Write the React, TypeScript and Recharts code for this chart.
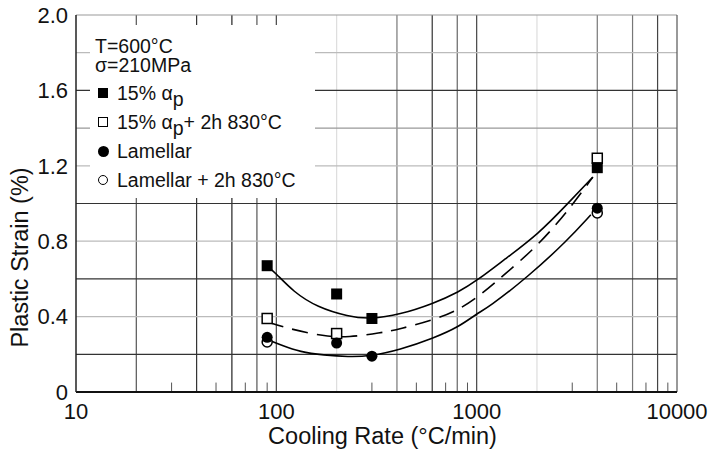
import React from 'react';
import { ComposedChart, Line, Scatter, XAxis, YAxis, ReferenceLine, Legend } from 'recharts';

const FONT = '"Liberation Sans", Arial, sans-serif';

const xTicks = [10, 100, 1000, 10000];
const yTicks = [0, 0.4, 0.8, 1.2, 1.6, 2.0];

// grid of the scanned figure (not evenly spaced on log scale)
const vGrid = [20, 40, 60, 80, 100, 200, 400, 600, 800, 1000, 2000, 4000, 6000, 8000];
const hGrid = [0.2, 0.4, 0.6, 0.8, 1.0, 1.2, 1.4, 1.6, 1.8];
const minorTicks = [30, 50, 70, 90, 300, 500, 700, 900, 3000, 5000, 7000, 9000];

// measured points
const alphaRate = [90, 200, 300, 4000];
const alphaStrain = [0.67, 0.52, 0.39, 1.19];
const alphaHtRate = [90, 200, 4000];
const alphaHtStrain = [0.39, 0.31, 1.24];
const lamRate = [90, 200, 300, 4000];
const lamStrain = [0.29, 0.26, 0.19, 0.975];
const lamHtRate = [90, 4000];
const lamHtStrain = [0.265, 0.95];

// fitted curves
const fitUpperRate = [91, 98, 122, 160, 229, 295, 412, 610, 813, 1012, 1365, 2042, 2851, 3800];
const fitUpperStrain = [0.663, 0.637, 0.53, 0.45, 0.4, 0.387, 0.41, 0.47, 0.53, 0.594, 0.7, 0.84, 1.0, 1.14];
const fitMidRate = [91, 108, 143, 180, 227, 331, 412, 610, 813, 1047, 1365, 2042, 2951, 3800];
const fitMidStrain = [0.37, 0.345, 0.313, 0.295, 0.29, 0.313, 0.334, 0.382, 0.435, 0.515, 0.62, 0.78, 0.98, 1.14];
const fitLowRate = [91, 105, 132, 172, 229, 295, 412, 610, 813, 1012, 1135, 1800, 2851, 3715];
const fitLowStrain = [0.276, 0.25, 0.212, 0.196, 0.186, 0.19, 0.223, 0.286, 0.345, 0.419, 0.446, 0.61, 0.806, 0.94];

const pts = (xs: number[], ys: number[]) => xs.map((x, i) => ({ x, y: ys[i] }));

const vShade = ['#555', '#333', '#222', '#555', '#444', '#ddd', '#777', '#333', '#666', '#444', '#ddd', '#777', '#777', '#444'];
const hShade = ['#333', '#bbb', '#333', '#bbb', '#333', '#bbb', '#999', '#333', '#bbb'];

const FilledSquare = (p: any) => <rect x={p.cx - 5.5} y={p.cy - 5.5} width={11} height={11} fill="#000" />;
const OpenSquare = (p: any) => (
  <rect x={p.cx - 5} y={p.cy - 5} width={10} height={10} fill="#fff" stroke="#000" strokeWidth={1.5} />
);
const FilledCircle = (p: any) => <circle cx={p.cx} cy={p.cy} r={5.5} fill="#000" />;
const OpenCircle = (p: any) => <circle cx={p.cx} cy={p.cy} r={5} fill="#fff" stroke="#000" strokeWidth={1.5} />;

const Sub = () => <span style={{ position: 'relative', top: '0.3em' }}>p</span>;

const marker = (kind: string) => {
  const base: React.CSSProperties = { position: 'absolute', left: 8, boxSizing: 'border-box' };
  if (kind === 'fs') return <span style={{ ...base, width: 10, height: 10, background: '#000', top: 5 }} />;
  if (kind === 'os') return <span style={{ ...base, width: 10, height: 10, border: '1.5px solid #000', top: 5 }} />;
  if (kind === 'fc') return <span style={{ ...base, width: 11, height: 11, background: '#000', borderRadius: '50%', top: 4.5 }} />;
  return <span style={{ ...base, width: 10, height: 10, border: '1.5px solid #000', borderRadius: '50%', top: 5 }} />;
};

const LegendBox = () => {
  const row = (top: number, h: number, children: React.ReactNode, kind?: string) => (
    <div style={{ position: 'absolute', top, left: 0, height: h, lineHeight: h + 'px', whiteSpace: 'nowrap' }}>
      {kind && marker(kind)}
      <span style={{ position: 'absolute', left: kind ? 27 : 5 }}>{children}</span>
    </div>
  );
  return (
    <div style={{ position: 'relative', width: 225, height: 173, background: '#fff', fontFamily: FONT, fontSize: 19.5, color: '#111' }}>
      {row(12, 18, 'T=600°C')}
      {row(31, 18, 'σ=210MPa')}
      {row(58, 20, <>15% α<Sub /></>, 'fs')}
      {row(87, 20, <>15% α<Sub />+ 2h 830°C</>, 'os')}
      {row(116, 20, 'Lamellar', 'fc')}
      {row(145, 20, 'Lamellar + 2h 830°C', 'oc')}
    </div>
  );
};

export default function App() {
  return (
    <div style={{ position: 'absolute', left: 0, top: 0, background: '#fff', fontFamily: FONT }}>
      <ComposedChart width={712} height={453} margin={{ top: 15, right: 35, bottom: 31, left: 0 }}>
        <XAxis
          type="number"
          dataKey="x"
          scale="log"
          domain={[10, 10000]}
          ticks={xTicks}
          allowDataOverflow
          height={30}
          tickLine={false}
          tickSize={6}
          tickMargin={5}
          axisLine={{ stroke: '#111', strokeWidth: 2 }}
          tick={{ fontSize: 22, fill: '#111', fontFamily: FONT }}
          label={{
            content: (p: any) => {
              const vb = p.viewBox || { x: 76, y: 392, width: 601 };
              return (
                <text x={vb.x + vb.width / 2 + 6} y={vb.y + 52} textAnchor="middle" fontSize={23.5} fill="#111" fontFamily={FONT}>
                  Cooling Rate (°C/min)
                </text>
              );
            },
          }}
        />
        <YAxis
          type="number"
          dataKey="y"
          domain={[0, 2]}
          ticks={yTicks}
          allowDataOverflow
          width={76}
          tickLine={false}
          axisLine={{ stroke: '#222', strokeWidth: 1.5 }}
          tick={{ fontSize: 22, fill: '#111', fontFamily: FONT }}
          tickFormatter={(v: number) => (v === 0 ? '0' : v.toFixed(1))}
          label={{
            content: (p: any) => {
              const vb = p.viewBox || { x: 0, y: 15, width: 76, height: 377 };
              const cx = vb.x + 28;
              const cy = vb.y + vb.height / 2 + 54;
              return (
                <text x={cx} y={cy} transform={`rotate(-90, ${cx}, ${cy})`} textAnchor="middle" fontSize={23.5} fill="#111" fontFamily={FONT}>
                  Plastic Strain (%)
                </text>
              );
            },
          }}
        />

        {vGrid.map((v, i) => (
          <ReferenceLine key={'v' + v} x={v} stroke={vShade[i]} strokeWidth={1.2} />
        ))}
        {hGrid.map((v, i) => (
          <ReferenceLine key={'h' + v} y={v} stroke={hShade[i]} strokeWidth={1.2} />
        ))}
        {minorTicks.map((v) => (
          <ReferenceLine key={'m' + v} segment={[{ x: v, y: 0 }, { x: v, y: 0.05 }]} stroke="#555" strokeWidth={1} />
        ))}
        <ReferenceLine y={2} stroke="#999" strokeWidth={1.2} />
        <ReferenceLine x={10000} stroke="#555" strokeWidth={1.2} />

        <Legend
          layout="horizontal"
          verticalAlign="middle"
          align="center"
          content={() => <LegendBox />}
          wrapperStyle={{ left: 90, top: 25, width: 225, height: 173 }}
        />

        <Line data={pts(fitUpperRate, fitUpperStrain)} dataKey="y" type="basis" stroke="#000" strokeWidth={1.6} dot={false} isAnimationActive={false} />
        <Line data={pts(fitMidRate, fitMidStrain)} dataKey="y" type="basis" stroke="#000" strokeWidth={1.6} strokeDasharray="16 9" dot={false} isAnimationActive={false} />
        <Line data={pts(fitLowRate, fitLowStrain)} dataKey="y" type="basis" stroke="#000" strokeWidth={1.6} dot={false} isAnimationActive={false} />

        <Scatter data={pts(alphaHtRate, alphaHtStrain)} dataKey="y" shape={OpenSquare} isAnimationActive={false} />
        <Scatter data={pts(alphaRate, alphaStrain)} dataKey="y" shape={FilledSquare} isAnimationActive={false} />
        <Scatter data={pts(lamHtRate, lamHtStrain)} dataKey="y" shape={OpenCircle} isAnimationActive={false} />
        <Scatter data={pts(lamRate, lamStrain)} dataKey="y" shape={FilledCircle} isAnimationActive={false} />
      </ComposedChart>
    </div>
  );
}
